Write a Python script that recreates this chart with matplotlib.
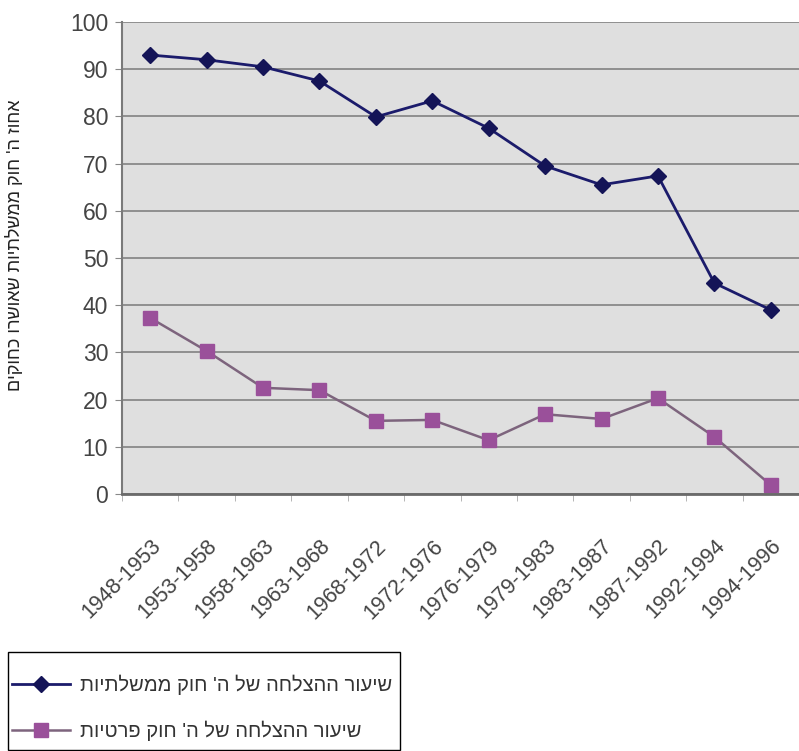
"""
אחוז הצעות חוק שאושרו - ממשלתיות מול פרטיות
"""
import matplotlib
matplotlib.use("Agg")
import matplotlib.pyplot as plt
import matplotlib.transforms as mtransforms
from matplotlib.patches import Rectangle
import numpy as np

matplotlib.rcParams['font.family'] = ['Liberation Sans', 'DejaVu Sans']

periods = ['1948-1953', '1953-1958', '1958-1963', '1963-1968', '1968-1972', '1972-1976',
           '1976-1979', '1979-1983', '1983-1987', '1987-1992', '1992-1994', '1994-1996']
gov_rate = [93.0, 92.0, 90.5, 87.5, 79.9, 83.3, 77.5, 69.5, 65.5, 67.4, 44.7, 39.0]
private_rate = [37.3, 30.3, 22.5, 22.0, 15.5, 15.7, 11.4, 16.9, 15.9, 20.3, 12.1, 1.9]

ylabel = "אחוז ה' חוק ממשלתיות שאושרו כחוקים"
gov_label = "שיעור ההצלחה של ה' חוק ממשלתיות"
private_label = "שיעור ההצלחה של ה' חוק פרטיות"


def rtl(s):
    # matplotlib אינו מטפל בכיווניות - הופכים את סדר התווים
    return s[::-1]


W, H = 799, 751
fig = plt.figure(figsize=(W / 100, H / 100), dpi=100)
ax = fig.add_axes([0.1527, 0.3422, 0.8473, 0.6285])
ax.set_facecolor('#dfdfdf')

x = np.arange(len(periods))
ax.plot(x, gov_rate, color='#1b1b6b', linewidth=2, marker='D', markersize=8,
        markerfacecolor='#141457', markeredgecolor='#141457', label=rtl(gov_label))
ax.plot(x, private_rate, color='#7d647d', linewidth=1.8, marker='s', markersize=10,
        markerfacecolor='#9a509a', markeredgecolor='#9a509a', label=rtl(private_label))

ax.set_xlim(-0.5, len(periods) - 0.5)
ax.set_ylim(0, 100)
ax.set_yticks(range(0, 101, 10))
ax.yaxis.grid(True, color='#8f8f8f', linewidth=1.4)
ax.set_axisbelow(True)

ax.set_xticks(x)
ax.set_xticklabels(periods, rotation=45, ha='right', va='top', rotation_mode='anchor',
                   fontsize=15.5, color='#444444')
# הזזה קלה שמאלה של תוויות הציר
shift = mtransforms.ScaledTranslation(-14 / 100, 0, fig.dpi_scale_trans)
for lbl in ax.get_xticklabels():
    lbl.set_transform(lbl.get_transform() + shift)
ax.set_xticks(np.arange(-0.5, len(periods), 1), minor=True)
ax.tick_params(axis='x', which='major', length=0, pad=30)
ax.tick_params(axis='x', which='minor', length=5, color='#aaaaaa')
ax.tick_params(axis='y', length=5, color='#888888', labelsize=16.5, labelcolor='#444444', pad=5)

for side in ['top', 'right']:
    ax.spines[side].set_visible(False)
ax.spines['left'].set_color('#7a7a7a')
ax.spines['bottom'].set_color('#6a6a6a')
ax.spines['left'].set_linewidth(1.5)
ax.spines['bottom'].set_linewidth(2)

fig.text(15 / W, 1 - 245 / H, rtl(ylabel), rotation=90, fontsize=13,
         ha='center', va='center', color='#222222')

# מסגרת המקרא
fig.patches.append(Rectangle((8 / W, 1 - 750 / H), 392 / W, 98 / H, transform=fig.transFigure,
                             fill=False, edgecolor='black', linewidth=1))
leg = fig.legend(loc='upper left', bbox_to_anchor=(8 / W, 1 - 671 / H), bbox_transform=fig.transFigure,
                 fontsize=14.5, frameon=False, handlelength=2.9, handletextpad=0.5,
                 labelspacing=1.25, borderpad=0.2, borderaxespad=0)
for t in leg.get_texts():
    t.set_color('#333333')

plt.savefig('out.png', dpi=100)
